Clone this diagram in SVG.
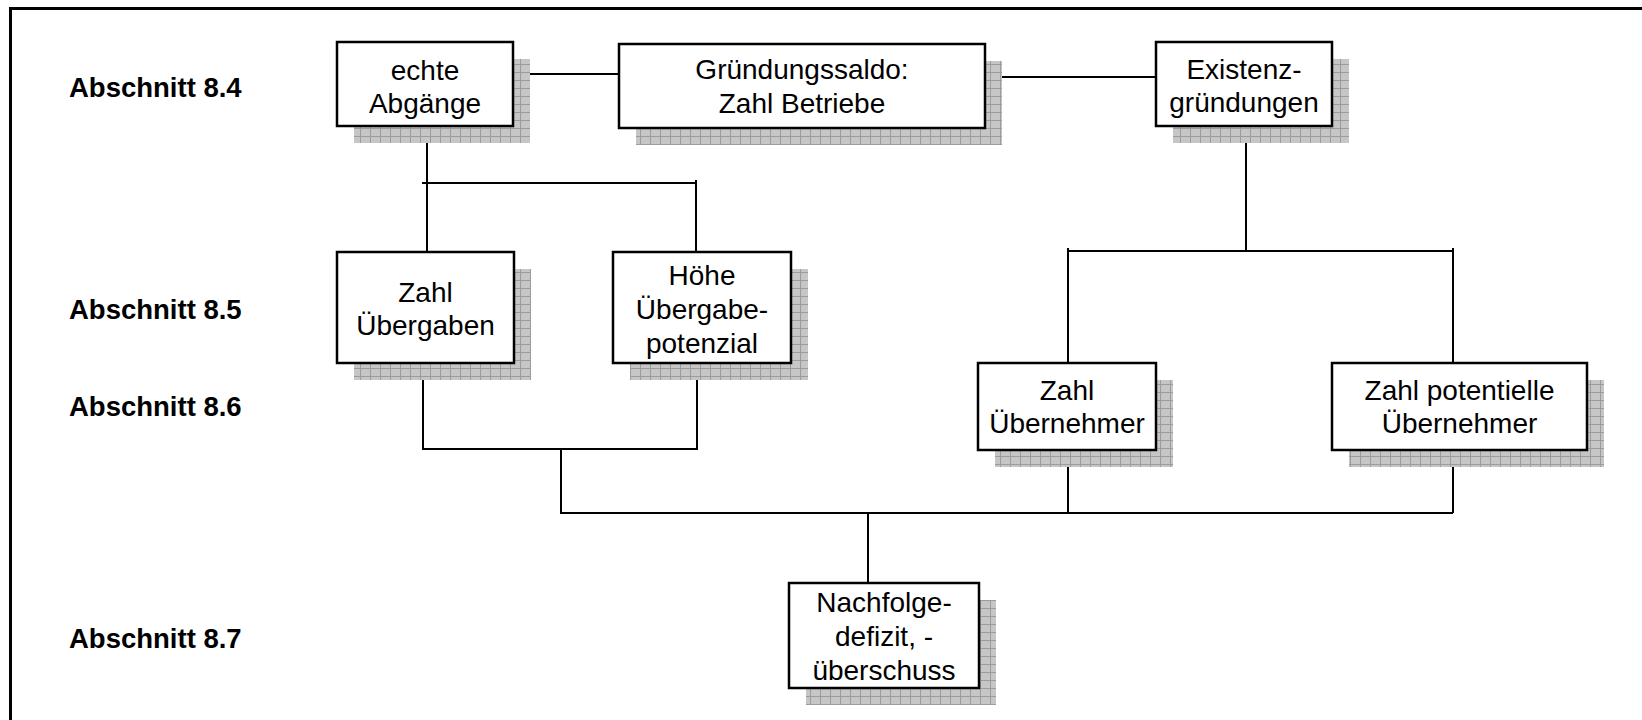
<svg xmlns="http://www.w3.org/2000/svg" width="1642" height="720" viewBox="0 0 1642 720">
<style>
.box{fill:#fff;stroke:#000;stroke-width:2.5}
.shadow{fill:url(#hatch)}
.t{font-family:"Liberation Sans",Arial,sans-serif;font-size:28px;text-anchor:middle;fill:#000}
.lbl{font-family:"Liberation Sans",Arial,sans-serif;font-size:27.5px;font-weight:bold;fill:#000}
.con{fill:none;stroke:#000;stroke-width:2}
.frame{fill:none;stroke:#000;stroke-width:3}
</style>
<defs>
<pattern id="hatch" width="10" height="8" patternUnits="userSpaceOnUse">
<rect width="10" height="8" fill="#c6c6c6"/>
<path d="M0 0.5H10M0.5 0V8" stroke="#9c9c9c" stroke-width="1"/>
</pattern>
</defs>
<rect width="1642" height="720" fill="#fff"/>
<path class="frame" d="M10.5 720V8.5H1642"/>
<g id="labels">
<text class="lbl" x="69" y="97">Abschnitt 8.4</text>
<text class="lbl" x="69" y="319">Abschnitt 8.5</text>
<text class="lbl" x="69" y="416">Abschnitt 8.6</text>
<text class="lbl" x="69" y="648">Abschnitt 8.7</text>
</g>
<g id="connectors">
<path class="con" d="M512 74H619"/>
<path class="con" d="M985 77H1156"/>
<path class="con" d="M427 126V252"/>
<path class="con" d="M422 183H696M696 180V252"/>
<path class="con" d="M1246 126V251"/>
<path class="con" d="M1068 251H1453M1068 248V363M1453 248V363"/>
<path class="con" d="M423 363V449H697V363"/>
<path class="con" d="M561 449V513H1453"/>
<path class="con" d="M1068 450V513M1453 450V513"/>
<path class="con" d="M868 513V583"/>
</g>
<g id="n_echte">
<rect class="shadow" x="354" y="59" width="176" height="84"/>
<rect class="box" x="337" y="42" width="176" height="84"/>
<text class="t" x="425" y="80">echte</text>
<text class="t" x="425" y="113">Abgänge</text>
</g>
<g id="n_saldo">
<rect class="shadow" x="636" y="61" width="366" height="84"/>
<rect class="box" x="619" y="44" width="366" height="84"/>
<text class="t" x="802" y="79">Gründungssaldo:</text>
<text class="t" x="802" y="113">Zahl Betriebe</text>
</g>
<g id="n_existenz">
<rect class="shadow" x="1173" y="59" width="176" height="84"/>
<rect class="box" x="1156" y="42" width="176" height="84"/>
<text class="t" x="1244" y="79">Existenz-</text>
<text class="t" x="1244" y="112">gründungen</text>
</g>
<g id="n_zahl_uebergaben">
<rect class="shadow" x="354" y="269" width="177" height="111"/>
<rect class="box" x="337" y="252" width="177" height="111"/>
<text class="t" x="425.5" y="302">Zahl</text>
<text class="t" x="425.5" y="335">Übergaben</text>
</g>
<g id="n_hoehe">
<rect class="shadow" x="630" y="269" width="178" height="111"/>
<rect class="box" x="613" y="252" width="178" height="111"/>
<text class="t" x="702" y="285">Höhe</text>
<text class="t" x="702" y="319">Übergabe-</text>
<text class="t" x="702" y="353">potenzial</text>
</g>
<g id="n_zahl_uebernehmer">
<rect class="shadow" x="995" y="380" width="178" height="87"/>
<rect class="box" x="978" y="363" width="178" height="87"/>
<text class="t" x="1067" y="400">Zahl</text>
<text class="t" x="1067" y="433">Übernehmer</text>
</g>
<g id="n_zahl_potentielle">
<rect class="shadow" x="1349" y="380" width="255" height="87"/>
<rect class="box" x="1332" y="363" width="255" height="87"/>
<text class="t" x="1459.5" y="400">Zahl potentielle</text>
<text class="t" x="1459.5" y="433">Übernehmer</text>
</g>
<g id="n_nachfolge">
<rect class="shadow" x="806" y="600" width="190" height="105"/>
<rect class="box" x="789" y="583" width="190" height="105"/>
<text class="t" x="884" y="612">Nachfolge-</text>
<text class="t" x="884" y="646">defizit, -</text>
<text class="t" x="884" y="680">überschuss</text>
</g>
</svg>
